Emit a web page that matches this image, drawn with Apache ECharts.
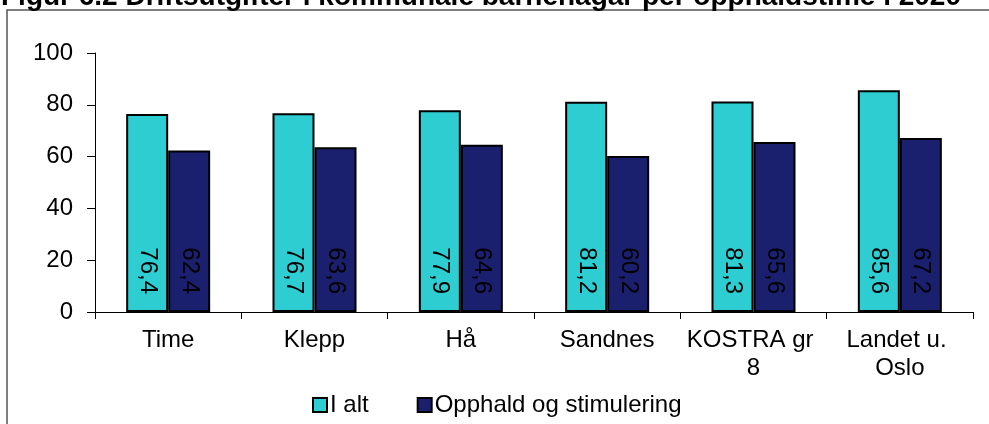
<!DOCTYPE html>
<html><head><meta charset="utf-8">
<script src="https://cdn.jsdelivr.net/npm/echarts@6/dist/echarts.min.js"></script>
<style>html,body{margin:0;padding:0;background:#fff}#c{width:989px;height:424px}</style>
</head><body><div id="c"></div>
<script>
var titleText = 'Figur 6.2 Driftsutgifter i kommunale barnehagar per opphaldstime i 2020';
var categories = ['Time', 'Klepp', 'Hå', 'Sandnes', 'KOSTRA gr 8', 'Landet u. Oslo'];
var seriesNames = ['I alt', 'Opphald og stimulering'];
var iAlt = [76.4, 76.7, 77.9, 81.2, 81.3, 85.6];
var opphald = [62.4, 63.6, 64.6, 60.2, 65.6, 67.2];
var yTicks = [0, 20, 40, 60, 80, 100];

var FONT = 'Liberation Sans, Arial, sans-serif';
var chart = echarts.init(document.getElementById('c'), null, {renderer: 'canvas'});
function lbl() {
  return {
    show: true, position: 'insideBottom', rotate: -90, align: 'right', verticalAlign: 'middle',
    distance: 18, color: '#000', fontFamily: FONT, fontSize: 24,
    formatter: function (p) { return String(p.value).replace('.', ','); }
  };
}
chart.setOption({
  animation: false,
  graphic: [
    {type: 'rect', shape: {x: 7, y: 10, width: 1200, height: 600}, style: {fill: 'none', stroke: '#555', lineWidth: 1.5}, z: -1},
    {type: 'text', left: 1, top: -17, style: {text: titleText, font: 'bold 28px ' + FONT, fill: '#000'}}
  ],
  grid: {left: 95, right: 16, top: 53, bottom: 112},
  legend: {
    data: seriesNames, left: 307, top: 388, itemWidth: 14, itemHeight: 14, itemGap: 48,
    icon: 'rect', textStyle: {fontFamily: FONT, fontSize: 24, color: '#000', padding: [0, 0, 0, -2]}
  },
  xAxis: {
    type: 'category', data: categories,
    axisLine: {lineStyle: {color: '#000', width: 1}},
    axisTick: {show: true, length: 7, lineStyle: {color: '#000'}},
    axisLabel: {fontFamily: FONT, fontSize: 24, color: '#000', margin: 14, width: 136, overflow: 'break', lineHeight: 28, interval: 0}
  },
  yAxis: {
    type: 'value', min: yTicks[0], max: yTicks[yTicks.length - 1], interval: 20,
    axisLine: {show: true, lineStyle: {color: '#000', width: 1}},
    axisTick: {show: true, length: 8, lineStyle: {color: '#000'}},
    splitLine: {show: false},
    axisLabel: {fontFamily: FONT, fontSize: 24, color: '#000', margin: 22}
  },
  series: [
    {name: seriesNames[0], type: 'bar', data: iAlt, barWidth: 42, barGap: '0%',
     itemStyle: {color: '#2ECDD2', borderColor: '#000', borderWidth: 2}, label: lbl()},
    {name: seriesNames[1], type: 'bar', data: opphald, barWidth: 42,
     itemStyle: {color: '#1A1F6E', borderColor: '#000', borderWidth: 2}, label: lbl()}
  ]
});
</script></body></html>
